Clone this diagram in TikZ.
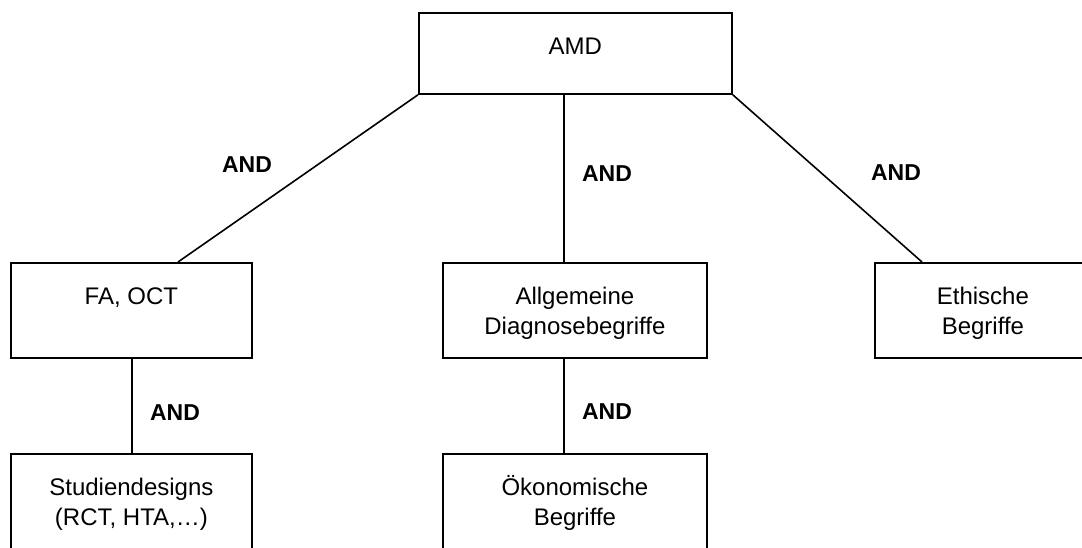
\documentclass[tikz,border=0pt]{standalone}
\usepackage{fontspec}
\setmainfont{Liberation Sans}
\usetikzlibrary{calc}
\newcommand{\boxtxt}[3]{\parbox[c][#2][t]{#1}{\vspace*{20.5pt}\centering\strut #3\par}}
\tikzset{
  box/.style={draw, line width=1.8pt, inner sep=0pt, anchor=north west, font=\fontsize{24}{30}\selectfont},
  conn/.style={line width=1.6pt},
  andlbl/.style={font=\fontsize{23}{28}\selectfont\bfseries, inner sep=0pt}
}
\begin{document}
\begin{tikzpicture}[x=1pt,y=-1pt]
\useasboundingbox (0,0) rectangle (1082,547);
\clip (0,0) rectangle (1082,547);
\node[box] (amd) at (418,12) {\boxtxt{313pt}{81pt}{AMD}};
\node[box] (fa) at (10,262) {\boxtxt{241pt}{95pt}{FA, OCT}};
\node[box] (allg) at (442,262) {\boxtxt{264pt}{95pt}{Allgemeine\\\strut Diagnosebegriffe}};
\node[box] (eth) at (874,262) {\boxtxt{216pt}{95pt}{Ethische\\\strut Begriffe}};
\node[box] (stud) at (10,453) {\boxtxt{241pt}{110pt}{Studiendesigns\\\strut (RCT, HTA,…)}};
\node[box] (oek) at (442,453) {\boxtxt{264pt}{110pt}{Ökonomische\\\strut Begriffe}};

\draw[conn] (amd.south west) -- ($(fa.north west)+(168,0)$);
\draw[conn] ($(amd.south)+(-11.5,0)$) -- ($(allg.north)+(-11,0)$);
\draw[conn] (amd.south east) -- ($(eth.north west)+(48,0)$);
\draw[conn] ($(fa.south)+(0.3,0)$) -- ($(stud.north)+(0.3,0)$);
\draw[conn] ($(allg.south)+(-11,0)$) -- ($(oek.north)+(-11,0)$);

\node[andlbl] (a1) at (247,165) {AND};
\node[andlbl] (a2) at (607,174) {AND};
\node[andlbl] (a3) at (896,173) {AND};
\node[andlbl] (a4) at (175,413) {AND};
\node[andlbl] (a5) at (607,412) {AND};
\end{tikzpicture}
\end{document}
